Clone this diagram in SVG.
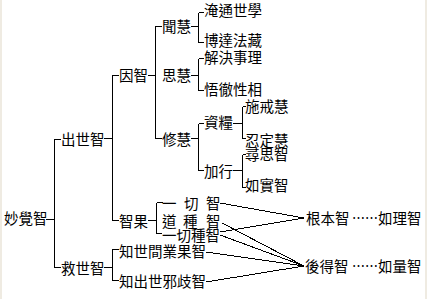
<svg xmlns="http://www.w3.org/2000/svg" width="427" height="299" viewBox="0 0 427 299">
<style>
text{font-family:"Noto Sans CJK TC","Noto Sans CJK SC",sans-serif;font-size:14.5px;fill:#000}
.c line,.c path{stroke:#000;stroke-width:1;fill:none;shape-rendering:crispEdges}
</style>
<rect width="427" height="299" fill="#fff"/>
<rect x="0" y="0" width="2" height="299" fill="#efebe2"/>
<rect x="425" y="0" width="2" height="299" fill="#efebe2"/>
<g class="c" id="connectors">
<path d="M46 219.5H54.5V139.5H61M54.5 219.5V267.5H61"/>
<path d="M104 138.5H112.5V75.5H119M112.5 138.5V220.5H119"/>
<path d="M104 267.5H112.5V249.5H119M112.5 267.5V280.5H119"/>
<path d="M148 75.5H155.5V26.5H162M155.5 75.5V138.5H162"/>
<path d="M191 26.5H198.5M198.5 12.5V42.5M198.5 12.5H204M198.5 42.5H204"/>
<path d="M191 75.5H198.5M198.5 58.5V90.5M198.5 58.5H204M198.5 90.5H204"/>
<path d="M191 138.5H198.5M198.5 123.5V170.5M198.5 123.5H204M198.5 170.5H204"/>
<path d="M233 123.5H242.5M242.5 106.5V138.5M242.5 106.5H246M242.5 138.5H246"/>
<path d="M233 170.5H242.5M242.5 154.5V187.5M242.5 154.5H246M242.5 187.5H246"/>
<path d="M148 220.5H156.5M156.5 202.5V233.5M156.5 202.5H163M156.5 233.5H162"/>
<line x1="220" y1="203" x2="304" y2="218"/>
<line x1="222" y1="223" x2="304" y2="266"/>
<line x1="220" y1="232" x2="304" y2="218"/>
<line x1="220" y1="235" x2="304" y2="266"/>
<line x1="206" y1="252" x2="304" y2="266"/>
<line x1="206" y1="282" x2="304" y2="266"/>
</g>
<g id="n-miaojue"><text x="4" y="224">妙覺智</text></g>
<g id="n-chushi"><text x="61" y="144.5">出世智</text></g>
<g id="n-jiushi"><text x="61" y="273.5">救世智</text></g>
<g id="n-yinzhi"><text x="119" y="80.5">因智</text></g>
<g id="n-zhiguo"><text x="119" y="226.5">智果</text></g>
<g id="n-wenhui"><text x="162" y="31.5">聞慧</text></g>
<g id="n-sihui"><text x="162" y="80.5">思慧</text></g>
<g id="n-xiuhui"><text x="162" y="144.5">修慧</text></g>
<g id="n-yantong"><text x="204" y="15.5">淹通世學</text></g>
<g id="n-boda"><text x="204" y="45.5">博達法藏</text></g>
<g id="n-jiejue"><text x="204" y="62.5">解決事理</text></g>
<g id="n-wuche"><text x="204" y="94.5">悟徹性相</text></g>
<g id="n-ziliang"><text x="204" y="127.5">資糧</text></g>
<g id="n-jiaxing"><text x="204" y="176.5">加行</text></g>
<g id="n-shijie"><text x="245" y="112">施戒慧</text></g>
<g id="n-rending"><text x="245" y="145.5">忍定慧</text></g>
<g id="n-xunsi"><text x="245" y="159.5">尋思智</text></g>
<g id="n-rushi"><text x="245" y="190.5">如實智</text></g>
<g id="n-yiqiezhi"><text y="208.5"><tspan x="162">一</tspan><tspan x="184">切</tspan><tspan x="206">智</tspan></text></g>
<g id="n-daozhong"><text y="226.5"><tspan x="162">道</tspan><tspan x="183">種</tspan><tspan x="206">智</tspan></text></g>
<g id="n-yiqiezhong"><text x="162" y="240.5">一切種智</text></g>
<g id="n-zhishijian"><text x="119" y="256.5">知世間業果智</text></g>
<g id="n-zhichushi"><text x="119" y="286.5">知出世邪歧智</text></g>
<g id="n-genben"><text x="306" y="223.5">根本智</text><text x="352" y="223.5" textLength="26" lengthAdjust="spacingAndGlyphs">……</text><text x="378" y="223.5">如理智</text></g>
<g id="n-houde"><text x="305" y="271.5">後得智</text><text x="352" y="271.5" textLength="26" lengthAdjust="spacingAndGlyphs">……</text><text x="378" y="271.5">如量智</text></g>
</svg>
